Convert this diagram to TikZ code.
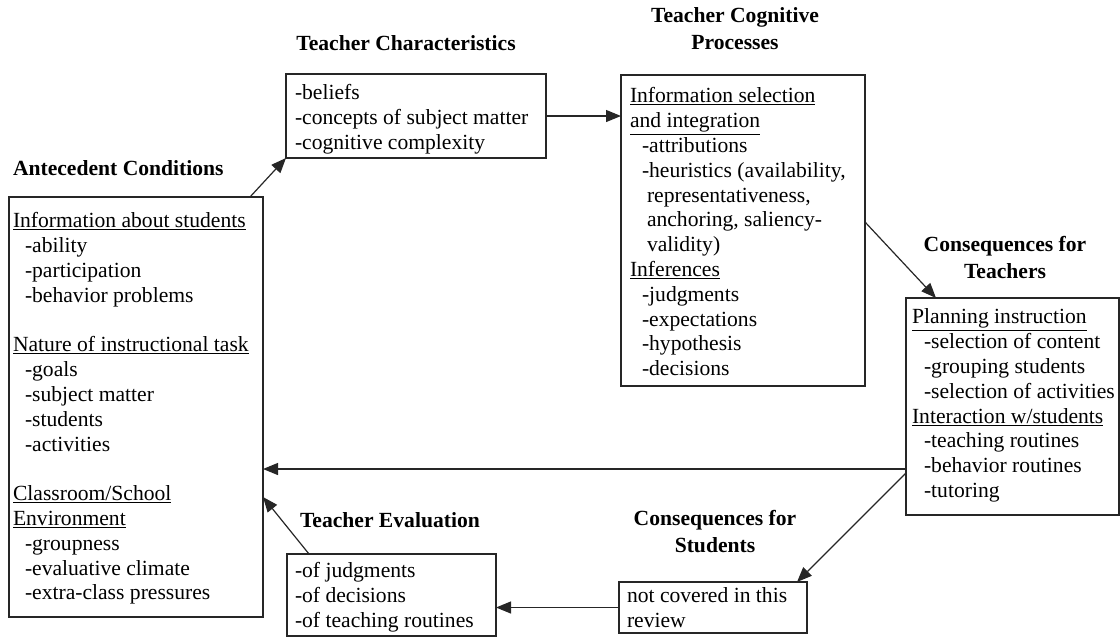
\documentclass[tikz,border=0pt]{standalone}
\usepackage{fontspec}
\setmainfont{Liberation Serif}
\usetikzlibrary{arrows.meta}
\tikzset{
  box/.style={draw=black!85, line width=1.3pt, inner sep=0pt, outer sep=0pt, anchor=north west},
  txt/.style={inner sep=0pt, outer sep=0pt, anchor=north west, align=left, font=\fontsize{21.6}{24.8}\selectfont},
  ttl/.style={inner sep=0pt, outer sep=0pt, anchor=north, align=center, font=\fontsize{21.6}{26.5}\selectfont\bfseries},
  conn/.style={draw=black!85, line width=1.2pt, -{Triangle[length=15pt,width=12pt]}},
}
\newcommand{\ind}{\hspace*{12pt}}
\newcommand{\cont}{\hspace*{17pt}}
\begin{document}
\begin{tikzpicture}[x=1pt,y=-1pt]
\useasboundingbox (0,0) rectangle (1120,638);
% boxes
\node[box, minimum width=254pt, minimum height=420pt] (ante) at (9,197) {};
\node[box, minimum width=260pt, minimum height=84pt] (tc) at (286,74) {};
\node[box, minimum width=244pt, minimum height=311pt] (cog) at (621,75) {};
\node[box, minimum width=213pt, minimum height=217pt] (ct) at (906,298) {};
\node[box, minimum width=188pt, minimum height=51pt] (cs) at (619,582) {};
\node[box, minimum width=209pt, minimum height=82pt] (ev) at (287,554) {};
% titles
\node[ttl, anchor=north west] (anteL) at (13,156.5) {\strut Antecedent Conditions};
\node[ttl] (tcL) at (406,31.5) {\strut Teacher Characteristics};
\node[ttl] (cogL) at (735,4) {\strut Teacher Cognitive\\ Processes};
\node[ttl] (ctL) at (1005,233) {\strut Consequences for\\ Teachers};
\node[ttl] (csL) at (715,507) {\strut Consequences for\\ Students};
\node[ttl, anchor=north west] (evL) at (300,508.5) {\strut Teacher Evaluation};
% box texts
\node[txt] (anteT) at (13,210.6) {\strut\underline{Information about students}\\
\ind-ability\\
\ind-participation\\
\ind-behavior problems\\[24.8pt]
\underline{Nature of instructional task}\\
\ind-goals\\
\ind-subject matter\\
\ind-students\\
\ind-activities\\[24.8pt]
\underline{Classroom/School}\\
\underline{Environment}\\
\ind-groupness\\
\ind-evaluative climate\\
\ind-extra-class pressures};
\node[txt] (tcT) at (295,82.6) {\strut-beliefs\\
-concepts of subject matter\\
-cognitive complexity};
\node[txt] (cogT) at (630,85.6) {\strut\underline{Information selection}\\
\underline{and integration}\\
\ind-attributions\\
\ind-heuristics (availability,\\
\cont representativeness,\\
\cont anchoring, saliency-\\
\cont validity)\\
\underline{Inferences}\\
\ind-judgments\\
\ind-expectations\\
\ind-hypothesis\\
\ind-decisions};
\node[txt] (ctT) at (912,306.6) {\strut\underline{Planning instruction}\\
\ind-selection of content\\
\ind-grouping students\\
\ind-selection of activities\\
\underline{Interaction w/students}\\
\ind-teaching routines\\
\ind-behavior routines\\
\ind-tutoring};
\node[txt] (csT) at (627,585.6) {\strut not covered in this\\ review};
\node[txt] (evT) at (295,560.6) {\strut-of judgments\\
-of decisions\\
-of teaching routines};
% connectors
\draw[conn] ([xshift=-13pt]ante.north east) -- (tc.south west);
\draw[conn] (tc.east) -- (cog.west |- tc.east);
\draw[conn] ([yshift=-147pt]cog.north east) -- ([xshift=30pt]ct.north west);
\draw[conn] ([yshift=-171pt]ct.north west) -- (ante.east |- 0,469);
\draw[conn] ([yshift=-175pt]ct.north west) -- ([xshift=-10pt]cs.north east);
\draw[conn] (cs.west) -- (ev.east |- cs.west);
\draw[conn] ([xshift=22pt]ev.north west) -- (ante.east |- 0,497);
\end{tikzpicture}
\end{document}
